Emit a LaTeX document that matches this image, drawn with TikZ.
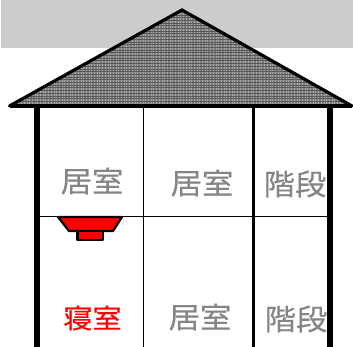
\documentclass[tikz,border=0pt]{standalone}
\usepackage{fontspec}
\newfontfamily\cjk[FakeStretch=1.08,FakeBold=0.4]{Noto Sans CJK JP}
\usetikzlibrary{patterns.meta}
\definecolor{skyband}{HTML}{CCCCCC}
\definecolor{labelgray}{HTML}{858585}
\definecolor{roofbase}{HTML}{7C7C7C}
\definecolor{rooflight}{HTML}{ABABAB}
\definecolor{roofdark}{HTML}{555555}
\tikzset{
  wall/.style={line width=6pt,line cap=butt},
  room/.style={font=\cjk\fontsize{29}{29}\selectfont,text=labelgray,inner sep=0pt},
  roof/.style={fill=roofbase,
    postaction={pattern={Lines[angle=90,distance=2.7pt,line width=0.9pt]},pattern color=rooflight},
    postaction={pattern={Lines[angle=0,distance=2.7pt,line width=0.6pt]},pattern color=roofdark}},
  roofline/.style={draw=black,line width=3.2pt,line join=miter,line cap=round},
  alarm/.style={draw=black,line width=2.2pt,fill=red,line join=round},
}
\begin{document}
\begin{tikzpicture}[x=1pt,y=-1pt]
\useasboundingbox (0,0) rectangle (353,347);
\fill[skyband] (1,0) rectangle (353,48);
\coordinate (apex) at (182,10);
\coordinate (eaveL) at (9.5,106);
\coordinate (eaveR) at (352,106);
\path[roof] (apex) -- (eaveR) -- (eaveL) -- cycle;
\draw[roofline] (eaveL) -- (apex) -- (eaveR);
\draw[line width=3.8pt] (eaveL) -- (eaveR);
\coordinate (wallLt) at (36.8,106);
\coordinate (wallLb) at (36.8,347);
\coordinate (wallRt) at (330,106);
\coordinate (wallRb) at (330,347);
\coordinate (midt) at (143.5,106);
\coordinate (midb) at (143.5,347);
\coordinate (stairt) at (253.5,106);
\coordinate (stairb) at (253.5,347);
\coordinate (floorL) at (37,216.5);
\coordinate (floorR) at (329,216.5);
\draw[line width=1.4pt] (midt) -- (midb);
\draw[line width=1.5pt] (floorL) -- (floorR);
\draw[line width=3pt] (stairt) -- (stairb);
\node[room] (r1) at (92,181) {居室};
\node[room] (r2) at (202,183) {居室};
\begin{scope}
\clip (0,100) rectangle (327,347);
\node[room,anchor=west] (s1) at (263.5,184) {階段};
\node[room,anchor=west] (s2) at (264.5,319) {階段};
\end{scope}
\node[room,text=red,font=\cjk\fontsize{27}{27}\selectfont] (r3) at (92.5,318) {寝室};
\node[room] (r4) at (200,317) {居室};
\draw[wall] (wallLt) -- (wallLb);
\draw[wall,line width=6.5pt] (wallRt) -- (wallRb);
\draw[alarm] (58,217) -- (122,217) -- (113,231) -- (69,231) -- cycle;
\draw[alarm] (77.5,231) rectangle (103,240);
\end{tikzpicture}
\end{document}
